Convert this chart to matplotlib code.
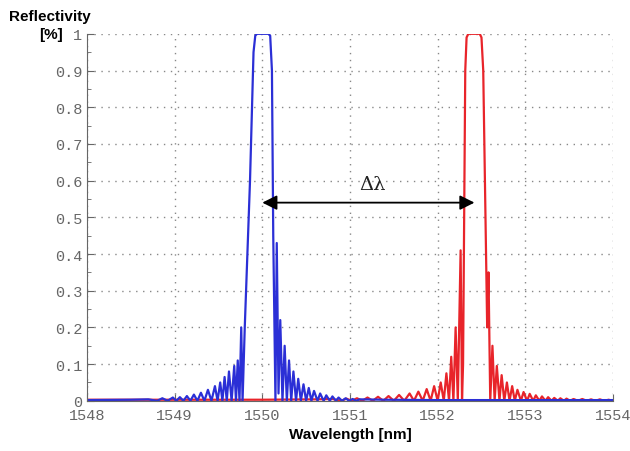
import matplotlib
matplotlib.use('Agg')
import matplotlib.pyplot as plt
from matplotlib.ticker import MultipleLocator

# reflectivity spectra (wavelength in nm, reflectivity 0..1)
blue_wl = [1548.00, 1548.50, 1548.70, 1548.80, 1548.86, 1548.92, 1548.98, 1549.02,
           1549.06, 1549.10, 1549.14, 1549.18, 1549.22, 1549.26, 1549.30, 1549.34,
           1549.38, 1549.42, 1549.46, 1549.49, 1549.52, 1549.545, 1549.57, 1549.595,
           1549.62, 1549.65, 1549.68, 1549.70, 1549.72, 1549.74, 1549.76, 1549.775,
           1549.80, 1549.86, 1549.90, 1549.92, 1549.94, 1550.07, 1550.09, 1550.11,
           1550.125, 1550.15, 1550.165, 1550.185, 1550.205, 1550.23, 1550.255, 1550.28,
           1550.305, 1550.33, 1550.355, 1550.385, 1550.41, 1550.44, 1550.47, 1550.50,
           1550.53, 1550.56, 1550.59, 1550.63, 1550.66, 1550.70, 1550.73, 1550.77,
           1550.80, 1550.84, 1550.87, 1550.91, 1550.95, 1550.99, 1551.03, 1551.07,
           1551.11, 1551.40, 1552.00, 1554.00]
blue_r = [0.002, 0.003, 0.004, 0.000, 0.007, 0.000, 0.009, 0.000,
          0.010, 0.000, 0.013, 0.000, 0.017, 0.000, 0.022, 0.000,
          0.030, 0.000, 0.040, 0.000, 0.050, 0.000, 0.065, 0.000,
          0.080, 0.000, 0.095, 0.000, 0.110, 0.000, 0.200, 0.000,
          0.200, 0.600, 0.950, 0.995, 1.000, 1.000, 0.995, 0.900,
          0.450, 0.000, 0.430, 0.020, 0.220, 0.000, 0.150, 0.000,
          0.110, 0.000, 0.080, 0.000, 0.060, 0.000, 0.045, 0.000,
          0.035, 0.000, 0.027, 0.000, 0.020, 0.000, 0.015, 0.000,
          0.012, 0.000, 0.009, 0.000, 0.007, 0.000, 0.005, 0.000,
          0.004, 0.003, 0.002, 0.002]

red_wl = [1548.00, 1549.00, 1550.00, 1550.60, 1550.80, 1550.90, 1550.96, 1551.02,
          1551.08, 1551.14, 1551.20, 1551.26, 1551.32, 1551.38, 1551.44, 1551.50,
          1551.56, 1551.62, 1551.68, 1551.73, 1551.78, 1551.83, 1551.875, 1551.92,
          1551.96, 1552.00, 1552.035, 1552.07, 1552.10, 1552.13, 1552.155, 1552.18,
          1552.205, 1552.23, 1552.262, 1552.278, 1552.29, 1552.315, 1552.33, 1552.35,
          1552.48, 1552.50, 1552.52, 1552.565, 1552.58, 1552.60, 1552.625, 1552.65,
          1552.675, 1552.705, 1552.73, 1552.76, 1552.79, 1552.82, 1552.85, 1552.88,
          1552.91, 1552.95, 1552.98, 1553.02, 1553.05, 1553.09, 1553.12, 1553.16,
          1553.19, 1553.23, 1553.26, 1553.30, 1553.33, 1553.37, 1553.40, 1553.44,
          1553.47, 1553.51, 1553.55, 1553.60, 1553.65, 1553.70, 1553.75, 1553.80,
          1553.85, 1553.90, 1553.95, 1554.00]
red_r = [0.003, 0.003, 0.003, 0.004, 0.005, 0.000, 0.006, 0.000,
         0.007, 0.000, 0.009, 0.000, 0.011, 0.000, 0.013, 0.000,
         0.016, 0.000, 0.020, 0.000, 0.025, 0.000, 0.032, 0.000,
         0.040, 0.000, 0.050, 0.000, 0.075, 0.000, 0.120, 0.000,
         0.200, 0.000, 0.410, 0.000, 0.100, 0.900, 0.990, 1.000,
         1.000, 0.990, 0.900, 0.200, 0.350, 0.000, 0.150, 0.000,
         0.095, 0.000, 0.070, 0.000, 0.050, 0.000, 0.040, 0.000,
         0.030, 0.000, 0.024, 0.000, 0.019, 0.000, 0.015, 0.000,
         0.012, 0.000, 0.010, 0.000, 0.008, 0.000, 0.007, 0.000,
         0.006, 0.000, 0.005, 0.000, 0.005, 0.000, 0.004, 0.000,
         0.004, 0.000, 0.003, 0.000]

y_ticks = [0, 0.1, 0.2, 0.3, 0.4, 0.5, 0.6, 0.7, 0.8, 0.9, 1]
y_ticklabels = ['0', '0.1', '0.2', '0.3', '0.4', '0.5', '0.6', '0.7', '0.8', '0.9', '1']

# arrow between the two Bragg wavelengths
arrow_from = 1550.0
arrow_to = 1552.42
arrow_level = 0.54

mono = 'Liberation Mono'
sans = 'Liberation Sans'

fig = plt.figure(figsize=(6.3, 4.52), dpi=100)
ax = fig.add_axes([0.138, 0.111, 0.835, 0.812])

ax.plot(red_wl, red_r, color='#e8242a', lw=1.6)
ax.plot(blue_wl, blue_r, color='#2b2fd6', lw=1.6)

ax.set_xlim(1548, 1554)
ax.set_ylim(0, 1)
ax.xaxis.set_major_locator(MultipleLocator(1))
ax.set_yticks(y_ticks)
ax.set_yticklabels(y_ticklabels)
ax.yaxis.set_minor_locator(MultipleLocator(0.05))

ax.grid(True, which='major', color='#888888', linestyle=(0, (1, 4)), lw=1)
ax.tick_params(which='both', direction='in', color='#666666', labelcolor='#666666',
               labelsize=11)
ax.tick_params(which='major', length=5)
ax.tick_params(which='minor', length=3)
ax.tick_params(axis='x', pad=5)
for lab in ax.get_xticklabels() + ax.get_yticklabels():
    lab.set_fontfamily(mono)

for s in ['top', 'right']:
    ax.spines[s].set_visible(False)
for s in ['left', 'bottom']:
    ax.spines[s].set_color('#666666')

ax.annotate('', xy=(arrow_from, arrow_level), xytext=(arrow_to, arrow_level),
            arrowprops=dict(arrowstyle='<|-|>', color='black', lw=1.3,
                            mutation_scale=22, shrinkA=0, shrinkB=0))
ax.text(1551.26, 0.59, 'Δλ', fontsize=14, family='DejaVu Serif', ha='center',
        va='center', color='#222222')

ax.set_xlabel('Wavelength [nm]', fontsize=11, fontweight='bold', family=sans, labelpad=4)
fig.text(0.015, 0.963, 'Reflectivity', fontsize=11, fontweight='bold', family=sans,
         va='center', ha='left')
fig.text(0.1, 0.923, '[%]', fontsize=11, fontweight='bold', family=sans,
         va='center', ha='right')

fig.savefig('out.png', dpi=100)
